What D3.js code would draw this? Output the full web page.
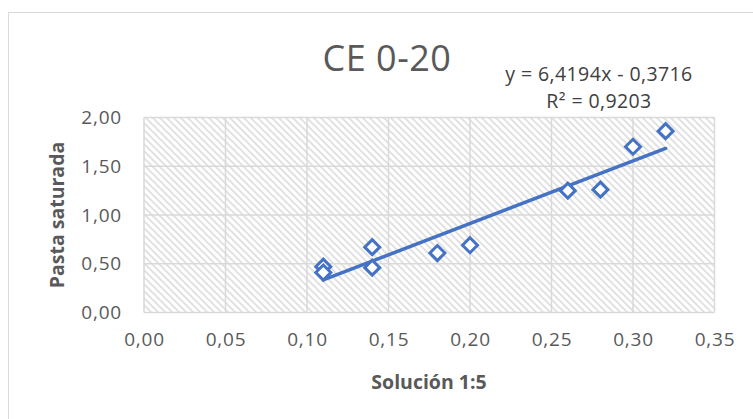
<!DOCTYPE html>
<html><head><meta charset="utf-8">
<script src="https://cdn.jsdelivr.net/npm/d3@7"></script>
<style>body{margin:0;background:#fff}svg{display:block}</style>
</head><body>
<svg id="c" width="753" height="419"></svg>
<script>
const xValues = [0.11, 0.11, 0.14, 0.14, 0.18, 0.20, 0.26, 0.28, 0.30, 0.32];
const yValues = [0.47, 0.41, 0.67, 0.46, 0.61, 0.69, 1.25, 1.26, 1.70, 1.86];
const xTicks = [0, 0.05, 0.10, 0.15, 0.20, 0.25, 0.30, 0.35];
const yTicks = [0, 0.5, 1.0, 1.5, 2.0];
const trendSlope = 6.4194;
const trendIntercept = -0.3716;
const trendR2 = 0.9203;
const title = "CE 0-20";
const xTitle = "Solución 1:5";
const yTitle = "Pasta saturada";

const svg = d3.select("#c");
const font = "'Open Sans', 'Noto Sans', sans-serif";
const fmt = v => d3.format(".2f")(v).replace(".", ",");
const fmt4 = v => d3.format(".4f")(Math.abs(v)).replace(".", ",");

// chart border
svg.append("rect").attr("x", 8.5).attr("y", 12.5).attr("width", 760).attr("height", 420)
  .attr("fill", "#fff").attr("stroke", "#d9d9d9");

const x = d3.scaleLinear().domain([0, 0.35]).range([144, 714.5]);
const y = d3.scaleLinear().domain([0, 2]).range([312.5, 117.5]);

const defs = svg.append("defs");
const pw = 7;
const pat = defs.append("pattern").attr("id", "hatch").attr("patternUnits", "userSpaceOnUse")
  .attr("width", pw).attr("height", pw);
pat.append("rect").attr("width", pw).attr("height", pw).attr("fill", "#fff");
pat.append("path").attr("d", `M-2,-2 L${pw + 2},${pw + 2} M-2,${pw - 2} L2,${pw + 2} M${pw - 2},-2 L${pw + 2},2`)
  .attr("stroke", "#e0e0e0").attr("stroke-width", 1.9);

svg.append("rect").attr("x", x(0)).attr("y", y(2)).attr("width", x(0.35) - x(0))
  .attr("height", y(0) - y(2)).attr("fill", "url(#hatch)");

// gridlines
const g = svg.append("g");
g.selectAll(".gx").data(xTicks).join("line")
  .attr("x1", d => x(d)).attr("x2", d => x(d)).attr("y1", y(0)).attr("y2", y(2))
  .attr("stroke", "#d9d9d9").attr("stroke-width", 1.5);
g.selectAll(".gy").data(yTicks).join("line")
  .attr("y1", d => y(d)).attr("y2", d => y(d)).attr("x1", x(0)).attr("x2", x(0.35))
  .attr("stroke", "#d9d9d9").attr("stroke-width", 1.5);

// axes labels via d3 axes
const xAxis = d3.axisBottom(x).tickValues(xTicks).tickFormat(fmt).tickSize(0).tickPadding(20);
const ax = svg.append("g").attr("transform", `translate(0,${y(0)})`).call(xAxis);
const yAxis = d3.axisLeft(y).tickValues(yTicks).tickFormat(fmt).tickSize(0).tickPadding(22);
const ay = svg.append("g").attr("transform", `translate(${x(0)},0)`).call(yAxis);
[ax, ay].forEach(a => {
  a.select(".domain").remove();
  a.selectAll("text").attr("font-family", font).attr("font-size", 19)
    .attr("letter-spacing", 0.8).attr("fill", "#595959");
});

// trendline
const tx = d3.extent(xValues);
svg.append("line")
  .attr("x1", x(tx[0])).attr("y1", y(trendSlope * tx[0] + trendIntercept))
  .attr("x2", x(tx[1])).attr("y2", y(trendSlope * tx[1] + trendIntercept))
  .attr("stroke", "#4472c4").attr("stroke-width", 3.5).attr("stroke-linecap", "round");

// markers
const r = 7.5;
const pts = xValues.map((v, i) => [v, yValues[i]]);
svg.selectAll(".pt").data(pts).join("path")
  .attr("d", d => `M${x(d[0])},${y(d[1]) - r} L${x(d[0]) + r},${y(d[1])} L${x(d[0])},${y(d[1]) + r} L${x(d[0]) - r},${y(d[1])} Z`)
  .attr("fill", "#fff").attr("stroke", "#4472c4").attr("stroke-width", 3);

// title
svg.append("text").attr("x", 387).attr("y", 71).attr("text-anchor", "middle")
  .attr("font-family", font).attr("font-size", 36).attr("letter-spacing", 0.5).attr("fill", "#595959").text(title);

// equation
svg.append("text").attr("x", 599).attr("y", 81).attr("text-anchor", "middle")
  .attr("font-family", font).attr("font-size", 19.5).attr("letter-spacing", 0.4).attr("fill", "#404040")
  .text(`y = ${fmt4(trendSlope)}x ${trendIntercept < 0 ? "-" : "+"} ${fmt4(trendIntercept)}`);
svg.append("text").attr("x", 599).attr("y", 108).attr("text-anchor", "middle")
  .attr("font-family", font).attr("font-size", 19.5).attr("letter-spacing", 0.4).attr("fill", "#404040")
  .text(`R² = ${fmt4(trendR2)}`);

// axis titles
svg.append("text").attr("x", 429).attr("y", 389).attr("text-anchor", "middle")
  .attr("font-family", font).attr("font-weight", "bold").attr("font-size", 19.5).attr("fill", "#595959").text(xTitle);
svg.append("text").attr("transform", `translate(64,215) rotate(-90)`).attr("text-anchor", "middle")
  .attr("font-family", font).attr("font-weight", "bold").attr("font-size", 19.5).attr("fill", "#595959").text(yTitle);
</script>
</body></html>
